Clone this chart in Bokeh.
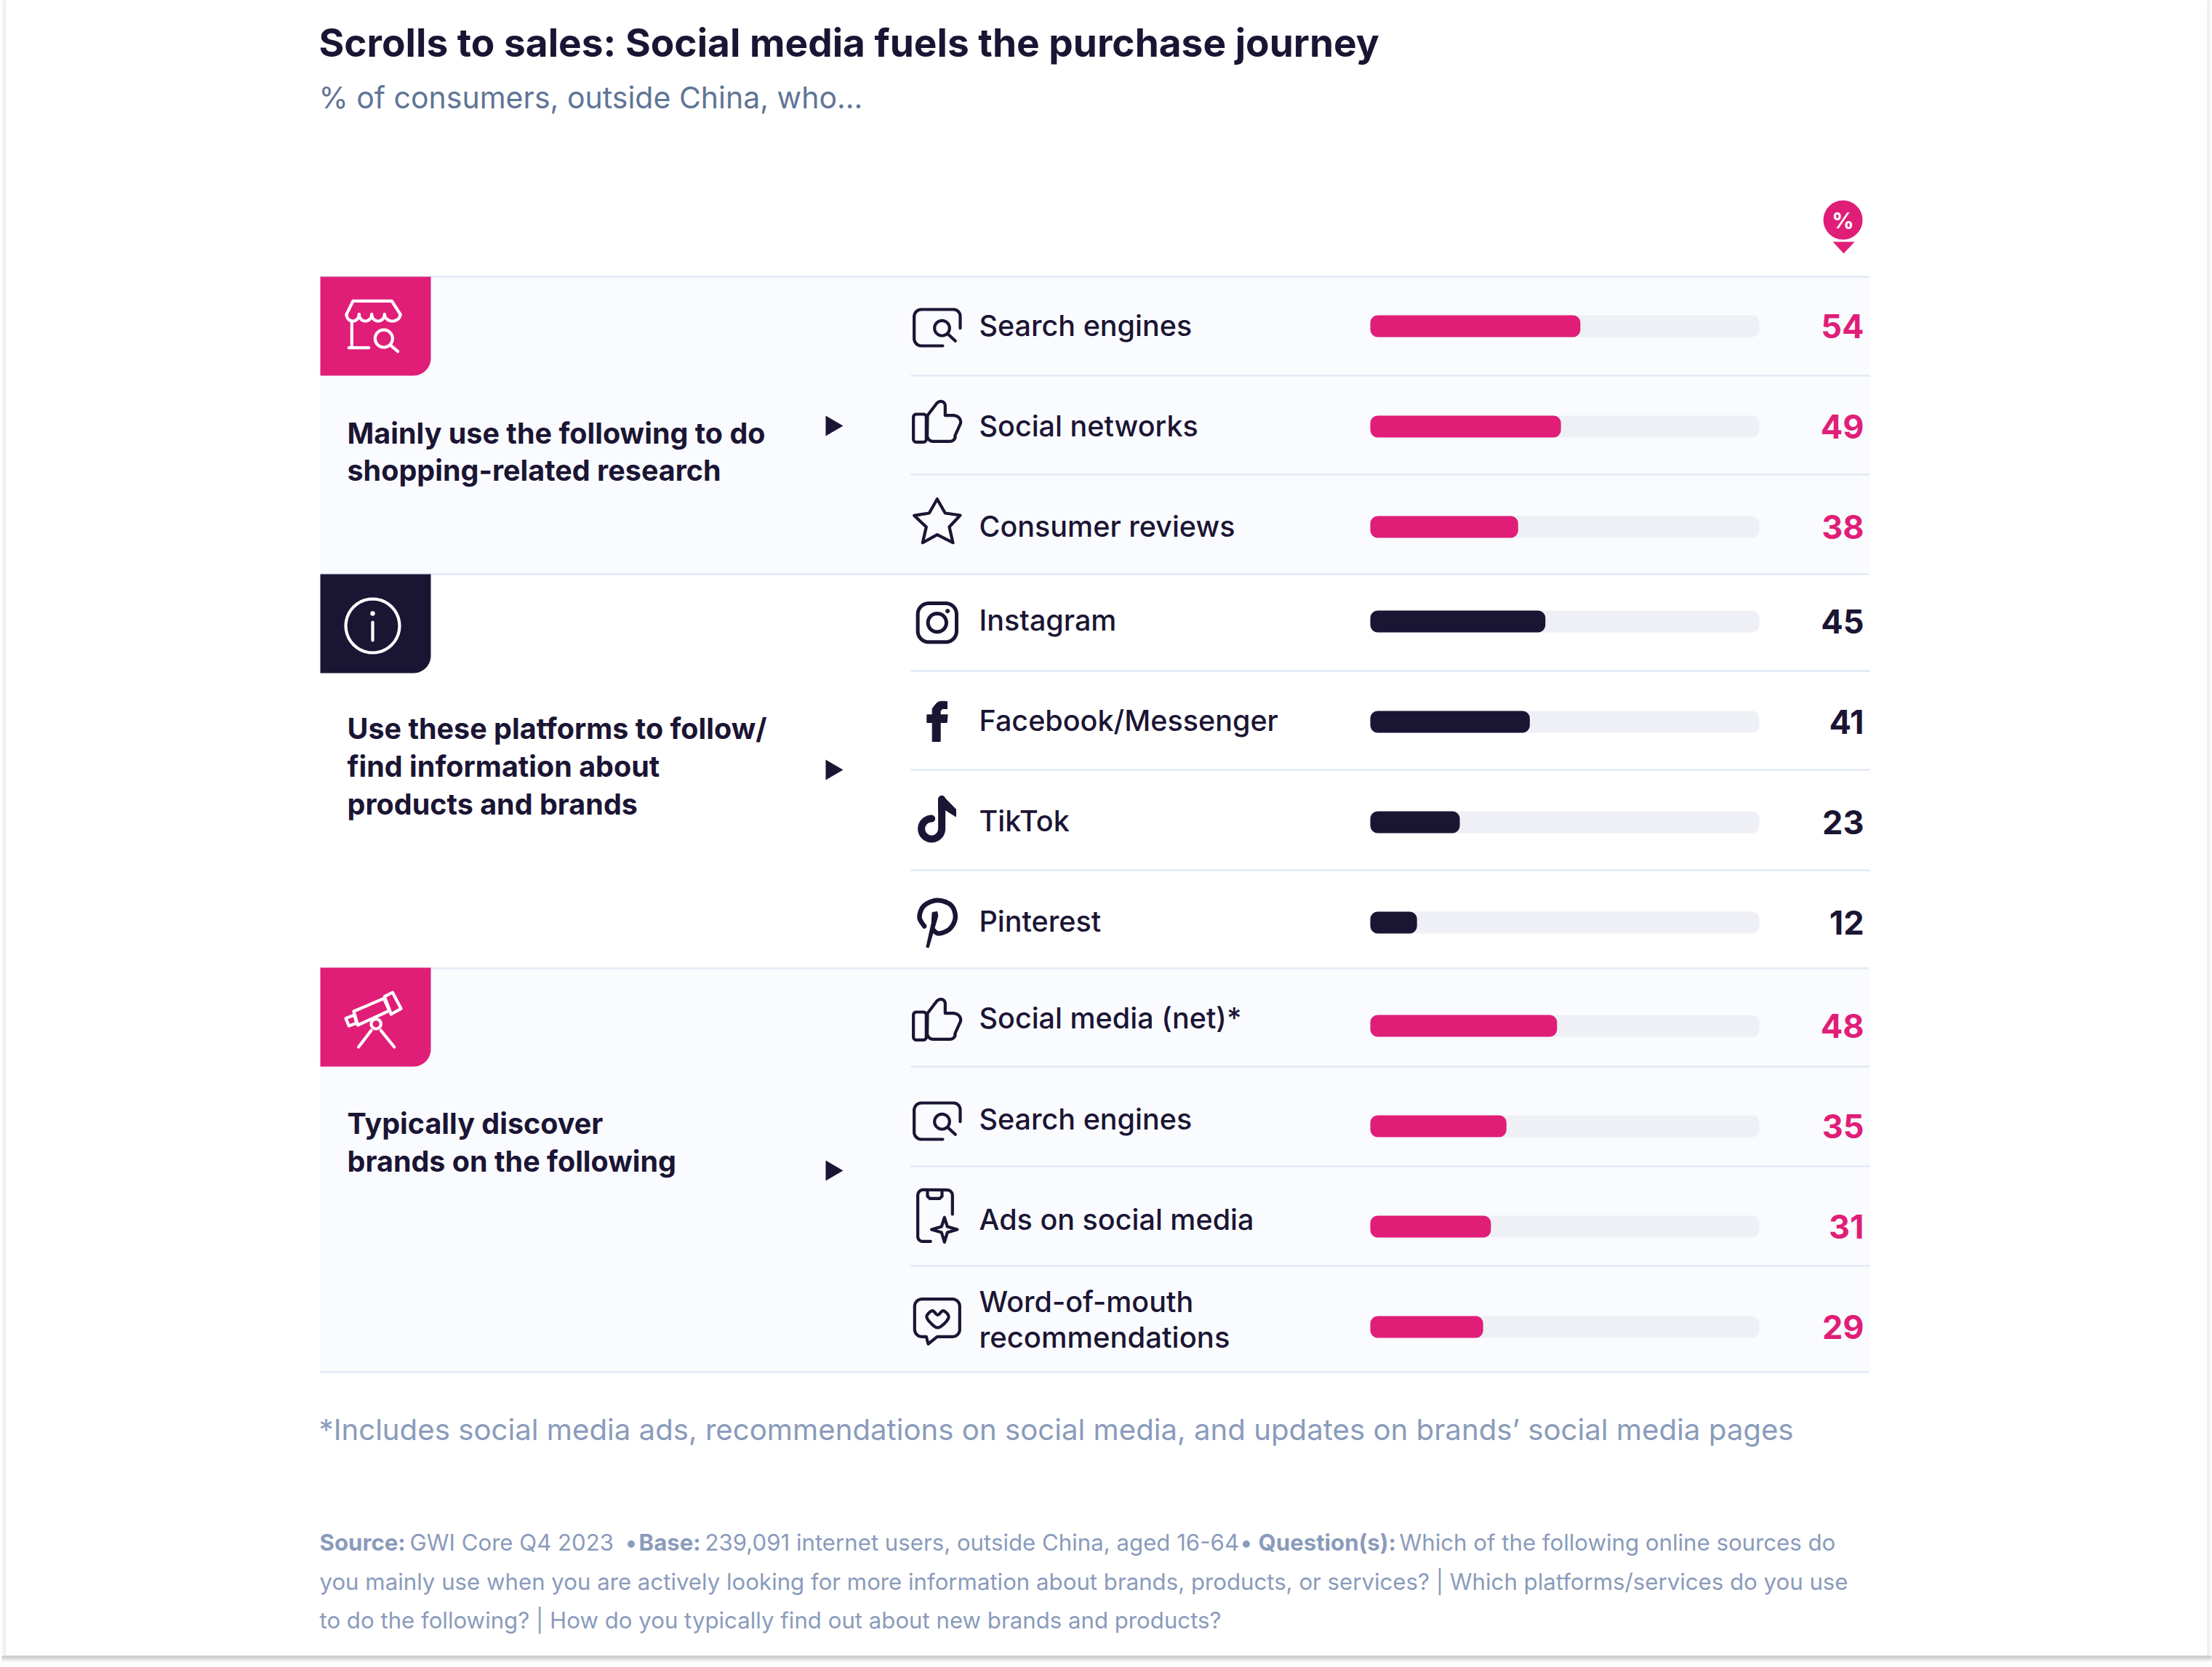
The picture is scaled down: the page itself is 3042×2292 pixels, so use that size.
import math
from bokeh.plotting import figure
from bokeh.models import Range1d, ColumnDataSource
from bokeh.core.properties import value
from bokeh.embed import file_html
from bokeh.resources import INLINE

# ---------- data ----------
research_labels = ["Search engines", "Social networks", "Consumer reviews"]
research_values = [54, 49, 38]
platform_labels = ["Instagram", "Facebook/Messenger", "TikTok", "Pinterest"]
platform_values = [45, 41, 23, 12]
discover_labels = ["Social media (net)*", "Search engines", "Ads on social media", "Word-of-mouth recommendations"]
discover_values = [48, 35, 31, 29]

TITLE = "Scrolls to sales: Social media fuels the purchase journey"
SUBTITLE = "% of consumers, outside China, who..."
FOOTNOTE = "*Includes social media ads, recommendations on social media, and updates on brands\u2019 social media pages"

# ---------- layout ----------
PINK, NAVY, TRACK, RULE, BAND = "#E01E78", "#1B1534", "#EEF0F5", "#E6ECF7", "#F9FBFE"
SLATE, MUTED = "#5F7596", "#8A9BBB"
FONT = "Inter"
W, H = 3042, 2292
OX, OY = 0, 1
BAR_X0, BAR_X1 = 1884, 2419
pct = (BAR_X1 - BAR_X0) / 100

p = figure(width=W, height=H, output_backend="svg", toolbar_location=None,
           x_range=Range1d(OX, OX + W), y_range=Range1d(OY + H, OY),
           min_border=0, outline_line_color=None, background_fill_color="white",
           border_fill_color="white")
p.axis.visible = False
p.grid.visible = False
p.extra_x_ranges = {"pct": Range1d((OX - BAR_X0) / pct, (OX + W - BAR_X0) / pct)}


def txt(x, y, s, size, color=NAVY, bold=False, align="left", font=FONT):
    p.text([x], [y], text=[s], text_font=value(font), text_font_size=f"{size}px",
           text_color=color, text_align=align, text_baseline="middle",
           text_font_style="bold" if bold else "normal")


def arc(cx, cy, rx, ry, a0, a1, n=14):
    return [(cx + rx * math.cos(math.radians(a0 + (a1 - a0) * i / n)),
             cy + ry * math.sin(math.radians(a0 + (a1 - a0) * i / n))) for i in range(n + 1)]


def rrect(x0, y0, x1, y1, r):
    pts = arc(x1 - r, y0 + r, r, r, -90, 0) + arc(x1 - r, y1 - r, r, r, 0, 90) \
        + arc(x0 + r, y1 - r, r, r, 90, 180) + arc(x0 + r, y0 + r, r, r, 180, 270)
    return pts + [pts[0]]


def smooth(pts, closed=False, n=8):
    out = []
    m = len(pts)
    rng = range(m) if closed else range(m - 1)
    for i in rng:
        if closed:
            a, b, c, d = pts[i - 1], pts[i], pts[(i + 1) % m], pts[(i + 2) % m]
        else:
            a, b, c, d = pts[max(i - 1, 0)], pts[i], pts[i + 1], pts[min(i + 2, m - 1)]
        for k in range(n):
            t = k / n
            out.append(tuple(0.5 * (2 * b[j] + (c[j] - a[j]) * t + (2 * a[j] - 5 * b[j] + 4 * c[j] - d[j]) * t * t
                                    + (3 * b[j] - a[j] - 3 * c[j] + d[j]) * t ** 3) for j in (0, 1)))
    out.append(pts[0] if closed else pts[-1])
    return out


def stroke(paths, ox, oy, color=NAVY, w=4.2, k=1 / 3):
    xs = [[ox + a * k for a, _ in q] for q in paths]
    ys = [[oy + b * k for _, b in q] for q in paths]
    p.multi_line(xs, ys, line_color=color, line_width=w, line_cap="round", line_join="round")


def fill(paths, ox, oy, color=NAVY, k=1 / 3):
    xs = [[ox + a * k for a, _ in q] for q in paths]
    ys = [[oy + b * k for _, b in q] for q in paths]
    p.patches(xs, ys, fill_color=color, line_color=color, line_width=1)


def circ(cx, cy, r):
    return arc(cx, cy, r, r, 0, 360, 40)


# ---------- icons (drawn in local crop units) ----------
def ic_search(oy):
    stroke([arc(80, 108, 30, 30, 180, 270) + arc(212, 106, 28, 28, 270, 360) + [(240, 155)],
            [(50, 108)] + [(50, 198)] + arc(80, 198, 30, 30, 180, 90) + [(168, 228)],
            circ(165, 155, 31), [(189, 179), (220, 208)]], 1240, oy)


def ic_thumb(oy):
    stroke([rrect(47, 510, 100, 625, 12),
            [(105, 515), (145, 463)] + arc(160, 475, 18, 18, 230, 360) + [(178, 515), (215, 515)]
            + arc(215, 543, 27, 27, -90, 10) + [(218, 600)] + arc(198, 600, 22, 22, 10, 90)
            + [(128, 622)] + arc(128, 598, 24, 24, 90, 180) + [(105, 515)]], 1240, oy)


def ic_star(oy):
    stroke([[(145, 50), (178, 108), (240, 117), (195, 165), (210, 230), (145, 197), (85, 230),
             (100, 165), (50, 118), (112, 108), (145, 50)]], 1240, oy)


def ic_insta(oy):
    stroke([rrect(65, 480, 225, 640, 45), circ(145, 560, 38)], 1240, oy, w=5)
    fill([circ(188, 512, 8)], 1240, oy)


def ic_fb(oy):
    fill([smooth([(186, 45), (150, 47), (125, 75)], n=4)
          + [(125, 100), (103, 100), (103, 132), (125, 132), (125, 210), (158, 210), (158, 132),
             (185, 132), (188, 100), (158, 100), (158, 85), (166, 75), (186, 75)]], 1240, oy)


def ic_tiktok(oy):
    stroke([[(164, 448), (164, 570)] + arc(122, 570, 42, 42, 0, 270, 24)], 1240, oy, w=10)
    fill([[(150, 445), (178, 445), (222, 490), (222, 520), (178, 492), (150, 492)]], 1240, oy)


def ic_pin(oy):
    stroke([smooth([(92, 972), (72, 935), (90, 888), (145, 865), (202, 885), (220, 935), (198, 982),
                    (152, 1002), (126, 985)])], 1240, oy, w=6.5)
    fill([[(125, 915), (145, 912), (148, 930), (110, 1060), (100, 1058), (122, 960)]], 1240, oy)


def ic_phone(oy):
    stroke([[(118, 262)] + arc(85, 242, 20, 20, 90, 180) + arc(88, 72, 23, 23, 180, 270)
            + arc(186, 72, 22, 22, 270, 360) + [(208, 150)],
            [(105, 52), (105, 76), (115, 85), (155, 85), (165, 76), (165, 52)],
            [(175, 163), (187, 201), (228, 213), (187, 225), (175, 265), (163, 225), (122, 213), (163, 201), (175, 163)]],
           1240, oy)


def ic_chat(oy):
    stroke([[(100, 655), (108, 685), (145, 655), (208, 655)] + arc(208, 625, 30, 30, 90, 0)
            + arc(208, 530, 30, 30, 0, -90) + arc(82, 530, 30, 30, 270, 180) + arc(82, 625, 30, 30, 180, 90)
            + [(100, 655)],
            smooth([(147, 565), (125, 548), (102, 570), (115, 595), (147, 618), (180, 595), (192, 570), (170, 548)],
                   closed=True)], 1240, oy)


def ic_store(ox, oy):
    bumps = []
    for a, b in [(108, 160), (160, 212), (212, 265), (265, 330)]:
        bumps.append(arc((a + b) / 2, 155, (b - a) / 2, 28, 180, 0))
    stroke([[(108, 155), (135, 100), (295, 100), (330, 155)]] + bumps
           + [[(130, 182), (130, 293)], [(118, 293), (200, 293)], circ(262, 255, 36), [(290, 283), (320, 308)]],
           ox, oy, color="white")


def ic_scope(ox, oy):
    stroke([[(138, 183), (262, 130), (285, 180), (155, 240), (138, 183)],
            [(265, 122), (298, 105), (333, 172), (292, 195), (265, 122)],
            [(105, 212), (140, 198), (150, 232), (118, 243), (105, 212)],
            circ(230, 235, 20), [(210, 262), (158, 330)], [(250, 262), (305, 330)]],
           ox, oy, color="white")


# ---------- card shadow ----------
BOTTOM = ["#B2B2B2", "#B8B8B8", "#C0C0C0", "#CACACA", "#D4D4D4", "#DEDEDE", "#E7E7E7", "#EFEFEF", "#F5F5F5", "#FAFAFA"]
SIDE = ["#E2E2E2", "#E7E7E7", "#ECECEC", "#F1F1F1", "#F5F5F5", "#F9F9F9", "#FCFCFC"]
for i, g in enumerate(BOTTOM):
    p.segment([2], [2276.5 + i + OY], [3041], [2276.5 + i + OY], line_color=g, line_width=1)
for i, g in enumerate(SIDE):
    p.segment([6.5 - i], [0], [6.5 - i], [2276 + OY], line_color=g, line_width=1)
    p.segment([3035.5 + i], [0], [3035.5 + i], [2276 + OY], line_color=g, line_width=1)

# ---------- backgrounds ----------
SECTIONS = [(381, 790, PINK, True), (790, 1332, NAVY, False), (1331, 1887, PINK, True)]
for top, bot, col, banded in SECTIONS:
    if banded:
        p.quad(left=[440], right=[2571], top=[top], bottom=[bot], fill_color=BAND, line_color=None)

for y in (381, 790, 1332, 1887):
    p.segment([440], [y], [2570], [y], line_color=RULE, line_width=3)
for y in (517, 653, 923, 1059, 1197, 1467, 1604, 1741):
    p.segment([1252], [y], [2571], [y], line_color=RULE, line_width=3)

for top, bot, col, banded in SECTIONS:
    h = 136
    pts = [(440, top), (592, top)] + arc(568, top + h - 24, 24, 24, 0, 90) + [(440, top + h)]
    p.patch([a for a, _ in pts], [b for _, b in pts], fill_color=col, line_color=None)

ic_store(440, 381)
stroke([circ(512, 861, 37), [(512, 856), (512, 881)]], 0, 0, color="white", k=1)
p.circle([512], [844], radius=3.2, fill_color="white", line_color=None)
ic_scope(440, 1330)

# ---------- titles ----------
txt(438, 59, TITLE, 53.2, bold=True)
txt(438, 134, SUBTITLE, 41, color=SLATE)

# % pin
p.circle([2534], [303], radius=27, fill_color=PINK, line_color=None)
p.patch([2520, 2550, 2535], [333, 333, 349], fill_color=PINK, line_color=None)
txt(2534, 303, "%", 30, color="white", bold=True, align="center")

# ---------- group labels ----------
for y, s in [(596, "Mainly use the following to do"), (647, "shopping-related research"),
             (1002, "Use these platforms to follow/"), (1054, "find information about"),
             (1106, "products and brands"), (1545, "Typically discover"), (1597, "brands on the following")]:
    txt(477, y, s, 39.5, bold=True)
for y in (586, 1059, 1610):
    p.patch([1135, 1159, 1135], [y - 14, y, y + 14], fill_color=NAVY, line_color=None)

# ---------- bars ----------
groups = [
    (research_labels, research_values, PINK, [449, 587, 725], [448, 586, 724]),
    (platform_labels, platform_values, NAVY, [855, 993, 1131, 1269], [853, 991, 1129, 1267]),
    (discover_labels, discover_values, PINK, [1411, 1549, 1687, 1825], [1400, 1539, 1677, None]),
]
LABEL_FONT = "Inter Medium"
for labels, vals, col, ys, lys in groups:
    src = ColumnDataSource(dict(y=ys, v=vals, t=[str(v) for v in vals], zero=[0] * len(vals),
                                full=[100] * len(vals), vx=[2563] * len(vals)))
    p.hbar(y="y", left="zero", right="full", height=30, source=src, x_range_name="pct",
           fill_color=TRACK, line_color=None, border_radius=10)
    p.hbar(y="y", left="zero", right="v", height=30, source=src, x_range_name="pct",
           fill_color=col, line_color=None, border_radius=10)
    p.text(x="vx", y="y", text="t", source=src, text_font=value(FONT), text_font_size="45px",
           text_color=col, text_align="right", text_baseline="middle", text_font_style="bold")
    for lab, ly in zip(labels, lys):
        if ly is None:
            txt(1346, 1790, "Word-of-mouth", 39.5, font=LABEL_FONT)
            txt(1346, 1839, "recommendations", 40, font=LABEL_FONT)
        else:
            txt(1346, ly, lab, 39.5, font=LABEL_FONT)

ic_search(400)
ic_thumb(400)
ic_star(670)
ic_insta(670)
ic_fb(950)
ic_tiktok(950)
ic_pin(950)
ic_thumb(1222)
ic_search(1491)
ic_phone(1620)
ic_chat(1620)

# ---------- notes ----------
txt(438, 1966, FOOTNOTE, 40.2, color=MUTED)
for x, y, s, b in [(439, 2121, "Source:", True), (563, 2121, "GWI Core Q4 2023", False), (860, 2121, "\u2022", True),
                   (878, 2121, "Base:", True), (969, 2121, "239,091 internet users, outside China, aged 16-64", False),
                   (1706, 2121, "\u2022", True), (1730, 2121, "Question(s):", True),
                   (1924, 2121, "Which of the following online sources do", False),
                   (439, 2175, "you mainly use when you are actively looking for more information about brands, products, or services? | Which platforms/services do you use", False),
                   (439, 2228, "to do the following? | How do you typically find out about new brands and products?", False)]:
    txt(x, y, s, 31.2, color=MUTED, bold=b)

open("out.html", "w").write(file_html(p, INLINE))
